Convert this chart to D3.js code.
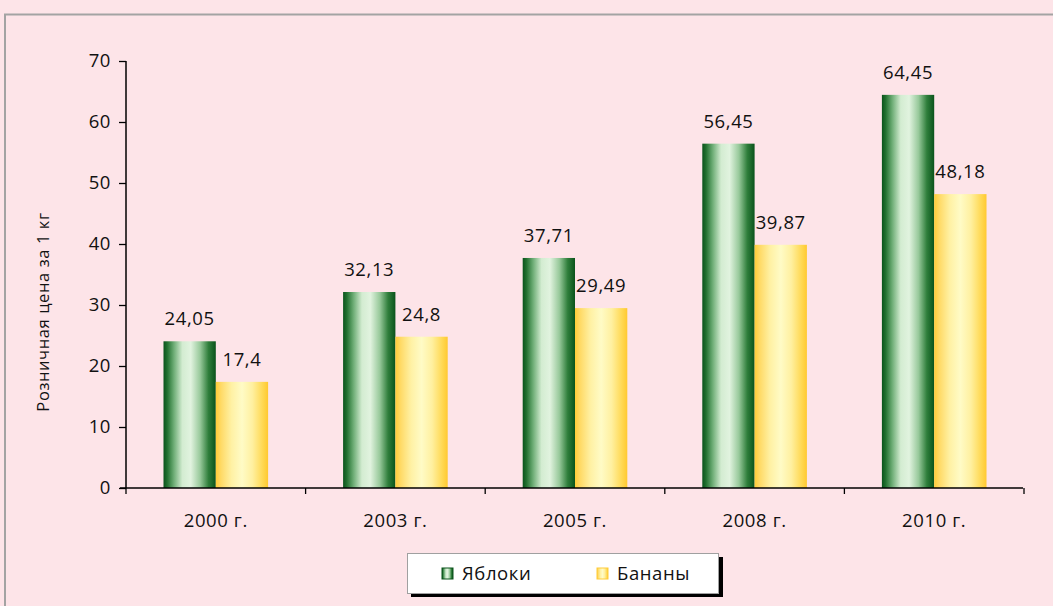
<!DOCTYPE html>
<html><head><meta charset="utf-8">
<script src="https://cdn.jsdelivr.net/npm/d3@7/dist/d3.min.js"></script>
<style>
html,body{margin:0;padding:0;background:#fde4e8;}
svg{display:block;}
text{font-family:"Open Sans",sans-serif;fill:#111;letter-spacing:0.6px;}
</style></head><body>
<svg id="c" width="1053" height="606"></svg>
<script>
const categories = ["2000 г.", "2003 г.", "2005 г.", "2008 г.", "2010 г."];
const seriesNames = ["Яблоки", "Бананы"];
const apples = [24.05, 32.13, 37.71, 56.45, 64.45];
const bananas = [17.4, 24.8, 29.49, 39.87, 48.18];
const labelsApples = ["24,05", "32,13", "37,71", "56,45", "64,45"];
const labelsBananas = ["17,4", "24,8", "29,49", "39,87", "48,18"];
const yTicks = [0, 10, 20, 30, 40, 50, 60, 70];
const yTitle = "Розничная цена за 1 кг";

const svg = d3.select("#c");
const W = 1053, H = 606;
svg.append("rect").attr("width", W).attr("height", H).attr("fill", "#fde4e8");
// frame
svg.append("path").attr("d", "M5,620 L5,14.5 L1060,14.5").attr("fill", "none")
  .attr("stroke", "#a3a3a3").attr("stroke-width", 2);

const defs = svg.append("defs");
const gG = defs.append("linearGradient").attr("id", "gGreen").attr("x1", "0").attr("x2", "1").attr("y1", "0").attr("y2", "0");
[[0, "#0a531b"], [0.07, "#21702f"], [0.2, "#6fae77"], [0.36, "#d3ecd1"], [0.52, "#e1f3df"], [0.7, "#98c99b"], [0.86, "#2f7e3b"], [1, "#0a531b"]]
  .forEach(([o, c]) => gG.append("stop").attr("offset", o).attr("stop-color", c));
const gY = defs.append("linearGradient").attr("id", "gYellow").attr("x1", "0").attr("x2", "1").attr("y1", "0").attr("y2", "0");
[[0, "#ffcc38"], [0.1, "#ffda66"], [0.3, "#fff1a4"], [0.5, "#fffbc6"], [0.7, "#fff0a0"], [0.9, "#ffd852"], [1, "#ffc930"]]
  .forEach(([o, c]) => gY.append("stop").attr("offset", o).attr("stop-color", c));

const x0 = d3.scaleBand().domain(categories).range([126, 1024]).paddingInner(0).paddingOuter(0);
const x1 = d3.scaleBand().domain(seriesNames).range([37.5, x0.bandwidth() - 37.5]);
const y = d3.scaleLinear().domain([0, 70]).range([488, 61]);

// bars
const data = categories.map((c, i) => ({ c, vals: [
  { s: seriesNames[0], v: apples[i], l: labelsApples[i] },
  { s: seriesNames[1], v: bananas[i], l: labelsBananas[i] }] }));
const grp = svg.append("g").selectAll("g").data(data).join("g")
  .attr("transform", d => `translate(${x0(d.c)},0)`);
grp.selectAll("rect").data(d => d.vals).join("rect")
  .attr("x", d => x1(d.s)).attr("width", x1.bandwidth())
  .attr("y", d => y(d.v)).attr("height", d => y(0) - y(d.v))
  .attr("fill", (d, i) => i === 0 ? "url(#gGreen)" : "url(#gYellow)");
grp.selectAll("text").data(d => d.vals).join("text")
  .attr("x", d => x1(d.s) + x1.bandwidth() / 2).attr("y", d => y(d.v) - 16)
  .attr("text-anchor", "middle").attr("font-size", 18.5).text(d => d.l);

// y axis
const yAxis = d3.axisLeft(y).tickValues(yTicks).tickSize(7).tickPadding(8).tickFormat(d3.format("d"));
const ya = svg.append("g").attr("transform", "translate(126,0)").call(yAxis);
ya.select(".domain").attr("stroke", "#000").attr("stroke-width", 1.5).attr("d", "M0,61V488");
ya.selectAll(".tick line").attr("stroke", "#000").attr("stroke-width", 1.3);
ya.selectAll(".tick text").attr("font-size", 18.5).attr("font-family", "Open Sans").attr("fill", "#111");

// x axis
const xa = svg.append("g").attr("transform", "translate(0,488)");
xa.append("line").attr("x1", 120).attr("x2", 1023).attr("y1", 0).attr("y2", 0).attr("stroke", "#000").attr("stroke-width", 1.5);
const bounds = categories.map(c => x0(c)).concat([x0(categories[categories.length - 1]) + x0.bandwidth()]);
xa.selectAll(".tk").data(bounds).join("line").attr("class", "tk")
  .attr("x1", d => d).attr("x2", d => d).attr("y1", 0).attr("y2", 6).attr("stroke", "#000").attr("stroke-width", 1.3);
xa.selectAll(".lb").data(categories).join("text").attr("class", "lb")
  .attr("x", d => x0(d) + x0.bandwidth() / 2).attr("y", 39)
  .attr("text-anchor", "middle").attr("font-size", 18.5).text(d => d);

// y title
svg.append("text").attr("transform", "translate(49,312) rotate(-90)")
  .attr("text-anchor", "middle").attr("font-size", 16.5).text(yTitle);

// legend
const lg = svg.append("g");
lg.append("rect").attr("x", 411).attr("y", 557).attr("width", 312).attr("height", 40).attr("fill", "#000");
lg.append("rect").attr("x", 407.5).attr("y", 553.5).attr("width", 311).attr("height", 40).attr("fill", "#fff").attr("stroke", "#a0a0a0").attr("stroke-width", 1);
const lx = [442, 597];
seriesNames.forEach((s, i) => {
  lg.append("rect").attr("x", lx[i]).attr("y", 568).attr("width", 11).attr("height", 11)
    .attr("fill", i === 0 ? "url(#gGreen)" : "url(#gYellow)")
    .attr("stroke", i === 0 ? "#0a531b" : "#ffcc38").attr("stroke-width", 1);
  lg.append("text").attr("x", lx[i] + 20).attr("y", 580).attr("font-size", 18.5).text(s);
});
</script>
</body></html>
